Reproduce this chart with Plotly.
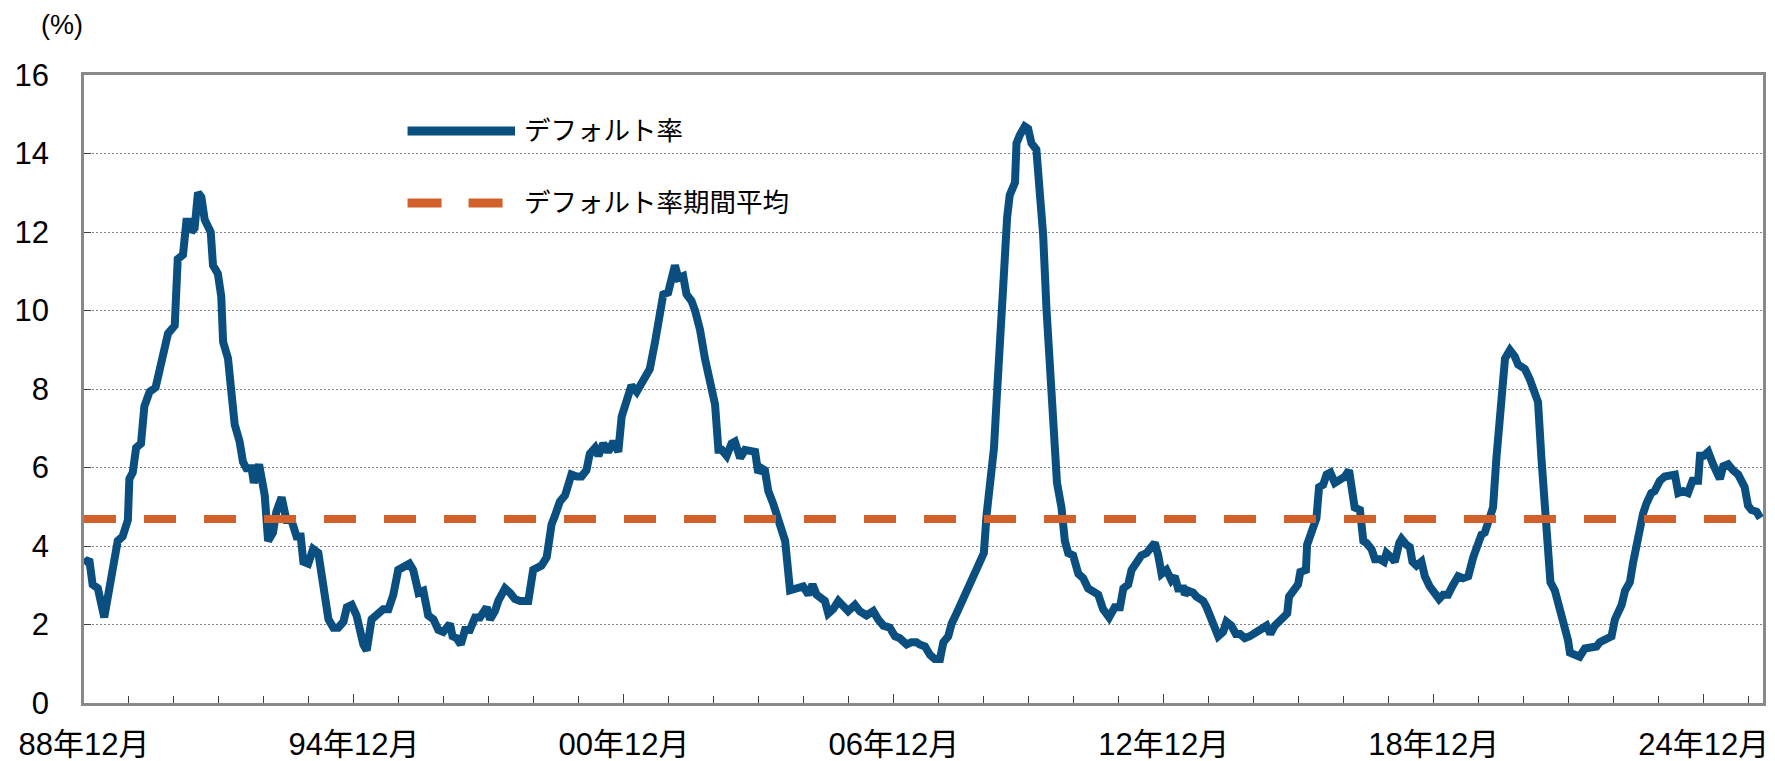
import plotly.graph_objects as go

# ---- data (months since Dec 1988, default rate in %) ----
months = [
    0.0, 1.4, 2.3, 3.7, 5.4, 7.2, 9.0, 10.3, 11.7, 12.1, 13.0, 13.9, 15.2, 16.1, 17.5, 19.1, 20.1,
    21.9, 22.4, 24.2, 25.0, 26.4, 27.3, 28.2, 28.6, 29.5, 30.4, 31.3, 32.2, 33.8, 34.4, 35.7, 36.6,
    37.1, 38.4, 39.3, 40.2, 41.5, 42.4, 43.3, 44.7, 45.3, 46.0, 46.7, 48.2, 49.1, 50.4, 51.3, 52.7,
    54.0, 55.3, 56.7, 57.8, 58.5, 59.8, 61.1, 62.5, 63.8, 65.2, 66.5, 67.8, 69.2, 70.1, 71.4, 72.7,
    74.5, 75.4,
    76.7, 78.5, 79.8, 81.2, 82.5, 83.8, 85.2, 86.8, 87.8, 89.2, 90.5, 91.8, 93.2, 94.5, 95.8, 97.6,
    98.3, 99.4, 100.5, 101.6, 102.9, 104.3, 105.6, 107.4, 108.3, 109.6, 110.5, 112.3, 113.6, 114.9,
    116.3, 118.5, 119.8, 120.7, 122.0, 123.4, 124.7, 125.6, 126.9, 128.3, 130.0, 131.4, 132.7, 134.0,
    134.9, 136.3, 137.2, 138.5, 139.8, 141.2, 142.5, 143.4, 144.7, 146.0, 147.4,
    149.6, 150.9, 152.3, 153.6, 154.5, 155.8, 156.7, 157.6, 158.5, 159.8, 160.7, 162.0, 163.0, 164.3,
    165.6, 166.9, 168.3, 169.2, 170.1, 171.4, 172.7, 173.6, 175.0, 176.3, 177.6, 179.0, 179.8, 180.7,
    181.6, 182.5, 183.8, 185.2, 186.1, 187.0, 188.3, 189.6, 191.0, 191.8, 193.2, 194.3, 195.4, 196.7,
    197.6, 198.5, 199.8, 201.2, 202.5, 203.8, 205.6, 206.9, 208.7, 210.5, 211.8, 213.2, 214.9, 216.3,
    217.6, 219.4, 220.7, 222.0,
    222.9, 224.3, 225.6, 226.9, 228.3, 229.2, 230.5, 231.4, 232.7, 234.0, 234.9, 236.3, 237.6, 238.9,
    240.0, 240.7, 241.8, 242.7, 243.4, 244.3, 245.2, 246.2, 246.9, 248.3, 248.7, 249.6, 250.9, 251.8,
    252.7, 254.0, 254.9, 255.8, 256.7, 257.6, 258.5, 259.5, 260.7, 261.6, 262.5, 263.8, 265.2, 266.5,
    267.8, 269.2, 270.5, 271.8, 273.4, 274.9, 276.3, 277.2, 278.5, 279.4, 280.7, 282.0, 283.4, 284.7,
    285.6, 286.5, 287.4, 288.7, 290.0, 290.9, 291.8, 293.2, 293.6, 294.5, 295.8, 296.7, 298.5, 299.4,
    300.7, 302.5, 303.8, 304.7, 306.0, 307.2, 308.3, 309.6, 310.9, 312.3, 313.6, 315.4, 316.4, 317.6,
    319.4, 320.9, 321.4, 322.9, 323.8, 324.4, 325.9, 326.2, 327.4, 328.7, 329.4, 330.5, 331.4, 332.4,
    333.6, 334.9, 336.3, 337.4, 338.0, 338.9, 340.3, 341.2, 342.0, 343.4, 344.3, 345.6, 346.7, 347.4,
    348.7, 349.6, 350.8, 351.4, 352.7, 353.6, 354.3, 355.4, 356.7, 357.6, 358.9, 360.3, 361.4, 362.5,
    363.8, 365.2, 366.5, 367.8, 369.2, 370.5, 371.4, 372.7, 373.6,
    374.5, 375.8, 376.7, 377.6, 378.5, 379.0, 380.3, 381.6, 382.5, 384.3, 385.6, 386.9, 387.8, 388.7,
    389.6, 390.5, 391.1, 392.3, 393.6, 394.9, 395.8, 396.3, 397.6, 398.9, 400.3, 402.0, 403.4, 404.3,
    405.6, 407.4, 408.3, 409.2, 410.1, 411.0, 412.3, 413.2, 414.0, 414.9, 415.8, 416.7, 418.0, 418.9,
    420.3, 421.6, 422.9, 424.3, 425.2, 426.5, 427.8, 429.0, 430.5, 431.0, 432.0, 433.2, 434.5, 436.3,
    437.2, 438.5, 439.8, 441.2, 442.9, 443.8, 444.7, 446.1, 447.1,
]
default_rate = [
    3.55, 3.66, 3.02, 2.92, 2.18, 3.08, 4.13, 4.24, 4.66, 5.71, 5.87, 6.50, 6.61, 7.56, 7.93, 8.04, 8.40,
    9.09, 9.41, 9.62, 11.31, 11.42, 12.26, 12.26, 12.00, 12.10, 13.00, 12.89, 12.31, 12.00, 11.15, 10.94, 10.36,
    9.20, 8.78, 7.93, 7.09, 6.66, 6.14, 5.98, 5.98, 5.61, 5.98, 6.08, 5.29, 4.13, 4.34, 4.87, 5.24,
    4.66, 4.66, 4.24, 4.24, 3.60, 3.55, 3.92, 3.82, 2.97, 2.13, 1.92, 1.92, 2.07, 2.44, 2.50, 2.23,
    1.49, 1.34,
    2.13, 2.28, 2.39, 2.39, 2.76, 3.39, 3.45, 3.55, 3.39, 2.81, 2.86, 2.23, 2.13, 1.86, 1.81, 2.02,
    1.70, 1.65, 1.49, 1.86, 1.86, 2.18, 2.18, 2.44, 2.13, 2.34, 2.60, 2.92, 2.81, 2.65,
    2.60, 2.60, 3.39, 3.45, 3.50, 3.71, 4.55, 4.77, 5.13, 5.29, 5.82, 5.77, 5.77, 5.93,
    6.35, 6.50, 6.30, 6.61, 6.40, 6.66, 6.40, 7.30, 7.67, 8.09, 7.93,
    8.35, 8.51, 9.20, 10.04, 10.41, 10.46, 10.83, 11.15, 10.83, 10.88, 10.41, 10.25, 9.99, 9.51,
    8.78, 8.14, 7.61, 6.45, 6.45, 6.30, 6.61, 6.66, 6.24, 6.45, 6.40, 6.40, 5.87, 5.98,
    5.93, 5.40, 5.08, 4.66, 4.29, 4.13, 2.87, 2.92, 2.92, 2.97, 2.76, 3.02, 2.76, 2.65,
    2.60, 2.28, 2.39, 2.60, 2.50, 2.34, 2.50, 2.34, 2.23, 2.34, 2.13, 1.97, 1.92, 1.70,
    1.65, 1.49, 1.55, 1.55,
    1.49, 1.44, 1.23, 1.12, 1.12, 1.55, 1.70, 2.02, 2.28, 2.55, 2.71, 3.02, 3.34, 3.60,
    3.82, 4.77, 5.71, 6.50, 7.72, 9.62, 10.68, 12.37, 12.94, 13.26, 14.26, 14.47, 14.69, 14.63,
    14.26, 14.10, 13.16, 11.94, 10.04, 8.35, 6.66, 5.61, 4.98, 4.13, 3.82, 3.76, 3.29, 3.18,
    2.92, 2.86, 2.76, 2.39, 2.18, 2.44, 2.44, 2.92, 3.02, 3.39, 3.60, 3.76, 3.82, 4.03,
    4.08, 3.76, 3.29, 3.39, 3.13, 3.23, 2.92, 2.92, 2.76, 2.86, 2.81, 2.71, 2.60, 2.44,
    2.07, 1.70, 1.81, 2.07, 1.97, 1.76, 1.76, 1.65, 1.70, 1.76, 1.86, 1.97, 1.76, 1.97,
    2.18, 2.28, 2.71, 2.86, 3.02, 3.34, 3.39, 4.03, 4.40, 4.71, 5.50, 5.56, 5.82, 5.87,
    5.61, 5.71, 5.77, 5.93, 5.40, 4.98, 4.92, 4.13, 4.08, 3.92, 3.66, 3.66, 3.60, 3.82,
    3.71, 3.60, 4.08, 4.18, 4.03, 3.97, 3.60, 3.50, 3.60, 3.23, 2.97, 2.81, 2.65, 2.76,
    2.76, 3.02, 3.23, 3.18, 3.23, 3.71, 3.97, 4.29, 4.34,
    4.55, 4.98, 6.24, 7.09, 8.14, 8.78, 8.99, 8.83, 8.62, 8.51, 8.25, 7.83, 7.67, 6.24,
    4.77, 3.71, 3.08, 2.86, 2.44, 2.02, 1.60, 1.28, 1.23, 1.18, 1.39, 1.44, 1.44, 1.55,
    1.60, 1.70, 2.13, 2.28, 2.50, 2.86, 3.08, 3.60, 4.03, 4.45, 4.82, 5.08, 5.35, 5.40,
    5.66, 5.77, 5.77, 5.82, 5.35, 5.40, 5.35, 5.66, 5.66, 6.30, 6.30, 6.40, 6.08, 5.71,
    6.03, 6.08, 5.93, 5.82, 5.50, 5.03, 4.92, 4.87, 4.71,
]
average_rate = 4.69
axis_end_month = 447.8

tick_months = [0, 72, 144, 216, 288, 360, 432]
tick_labels = ["88年12月", "94年12月", "00年12月", "06年12月", "12年12月", "18年12月", "24年12月"]
y_ticks = [0, 2, 4, 6, 8, 10, 12, 14, 16]

series_names = ["デフォルト率", "デフォルト率期間平均"]

BLUE = "#0B4F80"
ORANGE = "#D2602A"
FONT = "Liberation Sans, Arial, 'Noto Sans CJK JP', sans-serif"

fig = go.Figure()
fig.add_trace(go.Scatter(
    x=months, y=default_rate, mode="lines", name=series_names[0],
    line=dict(color=BLUE, width=8, shape="linear"), showlegend=False,
))
fig.add_trace(go.Scatter(
    x=[0, axis_end_month], y=[average_rate, average_rate], mode="lines", name=series_names[1],
    line=dict(color=ORANGE, width=8, dash="32px,28px"), showlegend=False,
))

# manual legend (white box covering gridlines, long line samples, labels)
fig.add_shape(type="rect", xref="paper", yref="paper", x0=0.1412, x1=0.4842, y0=0.7213, y1=0.968,
              fillcolor="white", line=dict(width=0), layer="between")
fig.add_shape(type="line", xref="paper", yref="paper", x0=0.1927, x1=0.2567, y0=0.9108, y1=0.9108,
              line=dict(color=BLUE, width=9))
fig.add_shape(type="line", xref="paper", yref="paper", x0=0.1927, x1=0.2567, y0=0.7962, y1=0.7962,
              line=dict(color=ORANGE, width=9, dash="34px,27px"))
for yy, txt in [(0.9108, series_names[0]), (0.7962, series_names[1])]:
    fig.add_annotation(xref="paper", yref="paper", x=0.2607, y=yy, text=txt, showarrow=False,
                       xanchor="left", yanchor="middle", font=dict(size=26.5, color="#000000", family=FONT))

fig.add_annotation(xref="paper", yref="paper", x=-0.013, y=1.079, text="(%)", showarrow=False,
                   xanchor="center", yanchor="middle", font=dict(size=27, color="#000000", family=FONT))

# page body has an 8px margin, so the figure is sized/offset to fit the window
fig.update_layout(
    width=1767, height=753,
    margin=dict(l=76, r=12, t=67, b=58, autoexpand=False),
    paper_bgcolor="white", plot_bgcolor="white",
    font=dict(family=FONT, size=26, color="#000000"),
    showlegend=False,
)
fig.update_xaxes(
    range=[0, axis_end_month], automargin=False,
    tickmode="array", tickvals=tick_months, ticktext=tick_labels,
    ticks="inside", ticklen=9, tickwidth=1, tickcolor="#404040",
    minor=dict(dtick=12, tick0=0, ticks="inside", ticklen=7, tickwidth=1, tickcolor="#404040", showgrid=False),
    showgrid=False, zeroline=False,
    showline=True, linecolor="#898989", linewidth=2.5, mirror=True,
    tickfont=dict(size=31, family=FONT, color="#000000"),
    ticklabelstandoff=12,
)
fig.update_yaxes(
    range=[0, 16], automargin=False, tickmode="array", tickvals=y_ticks,
    ticks="inside", ticklen=7, tickwidth=1, tickcolor="#404040",
    showgrid=True, gridcolor="#808080", gridwidth=1, griddash="2px,2px",
    zeroline=False,
    showline=True, linecolor="#898989", linewidth=2.5, mirror=True,
    tickfont=dict(size=31, family=FONT, color="#000000"),
    ticklabelstandoff=26,
)

fig.write_html("out.html")
